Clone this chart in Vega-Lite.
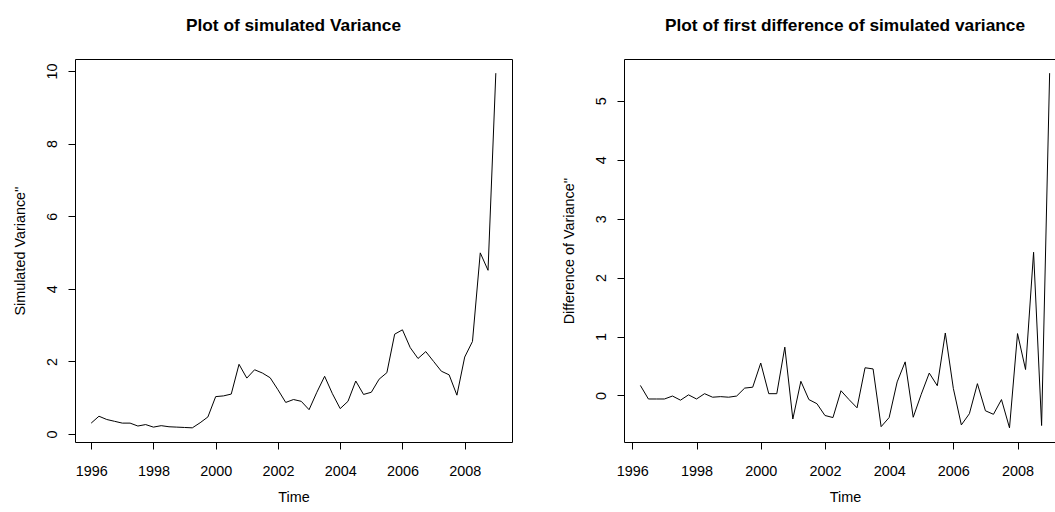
{
  "$schema": "https://vega.github.io/schema/vega-lite/v6.json",
  "padding": {"left": 11, "top": 16, "right": 0, "bottom": 0},
  "background": "white",
  "config": {
    "font": "Liberation Sans",
    "view": {"stroke": "black", "strokeWidth": 1},
    "axis": {
      "grid": false, "domain": false, "tickColor": "black", "tickSize": 7, "tickWidth": 1,
      "labelFont": "Liberation Sans", "labelFontSize": 14.4, "labelColor": "black",
      "titleFont": "Liberation Sans", "titleFontSize": 14.4, "titleFontWeight": "normal", "titleColor": "black"
    },
    "axisX": {"labelPadding": 15, "titlePadding": 13, "labelFlush": false},
    "axisY": {"labelAngle": -90, "labelPadding": 9, "titlePadding": 17},
    "title": {"font": "Liberation Sans", "fontSize": 17.3, "fontWeight": "bold", "color": "black", "offset": 25}
  },
  "datasets": {
    "variance": [
      {"t": 1996.00, "v": 0.30}, {"t": 1996.25, "v": 0.49}, {"t": 1996.50, "v": 0.40}, {"t": 1996.75, "v": 0.35},
      {"t": 1997.00, "v": 0.30}, {"t": 1997.25, "v": 0.30}, {"t": 1997.50, "v": 0.22}, {"t": 1997.75, "v": 0.26},
      {"t": 1998.00, "v": 0.19}, {"t": 1998.25, "v": 0.23}, {"t": 1998.50, "v": 0.20}, {"t": 1998.75, "v": 0.19},
      {"t": 1999.00, "v": 0.18}, {"t": 1999.25, "v": 0.17}, {"t": 1999.50, "v": 0.31}, {"t": 1999.75, "v": 0.47},
      {"t": 2000.00, "v": 1.03}, {"t": 2000.25, "v": 1.05}, {"t": 2000.50, "v": 1.10}, {"t": 2000.75, "v": 1.92},
      {"t": 2001.00, "v": 1.54}, {"t": 2001.25, "v": 1.77}, {"t": 2001.50, "v": 1.68}, {"t": 2001.75, "v": 1.55},
      {"t": 2002.00, "v": 1.22}, {"t": 2002.25, "v": 0.87}, {"t": 2002.50, "v": 0.95}, {"t": 2002.75, "v": 0.90},
      {"t": 2003.00, "v": 0.67}, {"t": 2003.25, "v": 1.15}, {"t": 2003.50, "v": 1.59}, {"t": 2003.75, "v": 1.11},
      {"t": 2004.00, "v": 0.70}, {"t": 2004.25, "v": 0.90}, {"t": 2004.50, "v": 1.46}, {"t": 2004.75, "v": 1.09},
      {"t": 2005.00, "v": 1.15}, {"t": 2005.25, "v": 1.51}, {"t": 2005.50, "v": 1.69}, {"t": 2005.75, "v": 2.75},
      {"t": 2006.00, "v": 2.87}, {"t": 2006.25, "v": 2.38}, {"t": 2006.50, "v": 2.08}, {"t": 2006.75, "v": 2.27},
      {"t": 2007.00, "v": 2.00}, {"t": 2007.25, "v": 1.73}, {"t": 2007.50, "v": 1.63}, {"t": 2007.75, "v": 1.07},
      {"t": 2008.00, "v": 2.12}, {"t": 2008.25, "v": 2.55}, {"t": 2008.50, "v": 4.99}, {"t": 2008.75, "v": 4.51},
      {"t": 2009.00, "v": 9.94}
    ],
    "difference": [
      {"t": 1996.25, "v": 0.17}, {"t": 1996.50, "v": -0.06}, {"t": 1996.75, "v": -0.06}, {"t": 1997.00, "v": -0.06},
      {"t": 1997.25, "v": -0.01}, {"t": 1997.50, "v": -0.08}, {"t": 1997.75, "v": 0.01}, {"t": 1998.00, "v": -0.06},
      {"t": 1998.25, "v": 0.03}, {"t": 1998.50, "v": -0.03}, {"t": 1998.75, "v": -0.02}, {"t": 1999.00, "v": -0.03},
      {"t": 1999.25, "v": -0.01}, {"t": 1999.50, "v": 0.125}, {"t": 1999.75, "v": 0.14}, {"t": 2000.00, "v": 0.55},
      {"t": 2000.25, "v": 0.03}, {"t": 2000.50, "v": 0.03}, {"t": 2000.75, "v": 0.82}, {"t": 2001.00, "v": -0.40},
      {"t": 2001.25, "v": 0.24}, {"t": 2001.50, "v": -0.07}, {"t": 2001.75, "v": -0.14}, {"t": 2002.00, "v": -0.34},
      {"t": 2002.25, "v": -0.375}, {"t": 2002.50, "v": 0.08}, {"t": 2002.75, "v": -0.07}, {"t": 2003.00, "v": -0.21},
      {"t": 2003.25, "v": 0.47}, {"t": 2003.50, "v": 0.45}, {"t": 2003.75, "v": -0.53}, {"t": 2004.00, "v": -0.375},
      {"t": 2004.25, "v": 0.23}, {"t": 2004.50, "v": 0.57}, {"t": 2004.75, "v": -0.37}, {"t": 2005.00, "v": 0.02},
      {"t": 2005.25, "v": 0.38}, {"t": 2005.50, "v": 0.165}, {"t": 2005.75, "v": 1.06}, {"t": 2006.00, "v": 0.12},
      {"t": 2006.25, "v": -0.50}, {"t": 2006.50, "v": -0.31}, {"t": 2006.75, "v": 0.20}, {"t": 2007.00, "v": -0.26},
      {"t": 2007.25, "v": -0.32}, {"t": 2007.50, "v": -0.07}, {"t": 2007.75, "v": -0.55}, {"t": 2008.00, "v": 1.05},
      {"t": 2008.25, "v": 0.44}, {"t": 2008.50, "v": 2.43}, {"t": 2008.75, "v": -0.51}, {"t": 2009.00, "v": 5.47}
    ]
  },
  "spacing": 47,
  "hconcat": [
    {
      "title": "Plot of simulated Variance",
      "width": 437,
      "height": 383,
      "data": {"name": "variance"},
      "mark": {"type": "line", "color": "black", "strokeWidth": 1},
      "encoding": {
        "x": {"field": "t", "type": "quantitative", "title": "Time",
              "scale": {"domain": [1995.48, 2009.52], "nice": false, "zero": false},
              "axis": {"values": [1996, 1998, 2000, 2002, 2004, 2006, 2008], "format": "d"}},
        "y": {"field": "v", "type": "quantitative", "title": "Simulated Variance''",
              "scale": {"domain": [-0.22, 10.33], "nice": false, "zero": false},
              "axis": {"values": [0, 2, 4, 6, 8, 10], "format": "d"}}
      }
    },
    {
      "title": "Plot of first difference of simulated variance",
      "width": 442,
      "height": 383,
      "data": {"name": "difference"},
      "mark": {"type": "line", "color": "black", "strokeWidth": 1},
      "encoding": {
        "x": {"field": "t", "type": "quantitative", "title": "Time",
              "scale": {"domain": [1995.74, 2009.51], "nice": false, "zero": false},
              "axis": {"values": [1996, 1998, 2000, 2002, 2004, 2006, 2008], "format": "d"}},
        "y": {"field": "v", "type": "quantitative", "title": "Difference of Variance''",
              "scale": {"domain": [-0.79, 5.71], "nice": false, "zero": false},
              "axis": {"values": [0, 1, 2, 3, 4, 5], "format": "d"}}
      }
    }
  ]
}
